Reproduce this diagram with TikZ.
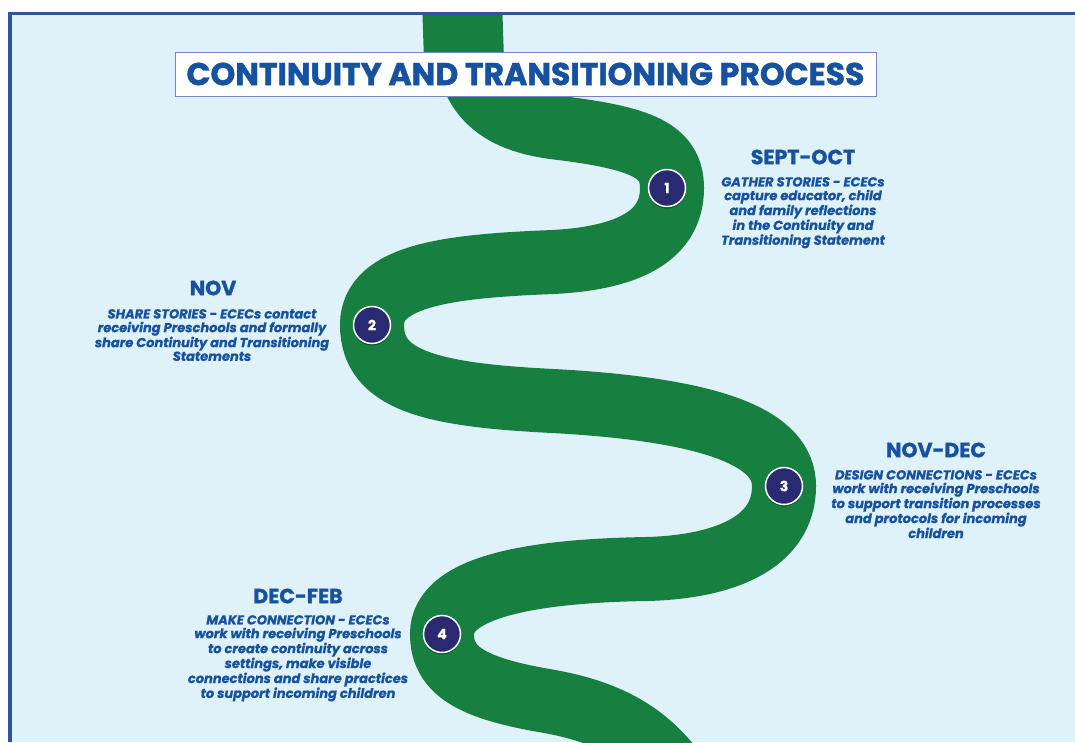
\documentclass[tikz,border=0pt]{standalone}
\usepackage{fontspec}
\setmainfont{Poppins}[BoldFeatures={FakeBold=1.3}, BoldItalicFeatures={FakeBold=0.9}]
\usetikzlibrary{shadows}
\definecolor{bgblue}{RGB}{223,241,249}
\definecolor{frame}{RGB}{47,85,151}
\definecolor{road}{RGB}{23,127,64}
\definecolor{txt}{RGB}{23,82,160}
\definecolor{navy}{RGB}{42,42,114}
\definecolor{tframe}{RGB}{125,130,198}
\tikzset{
  roadline/.style={draw=road, line width=64pt, line cap=butt},
  stepdot/.style={circle, fill=navy, draw=white, line width=1.5pt, minimum size=37pt, inner sep=0pt,
     text=white, font=\fontsize{14}{14}\selectfont\bfseries,
     drop shadow={shadow xshift=0pt, shadow yshift=-2pt, opacity=0.35, fill=black}},
  heading/.style={text=txt, font=\fontsize{20.5}{20.5}\selectfont\bfseries, inner sep=0pt},
  body/.style={text=txt, font=\fontsize{13}{13.7}\selectfont\bfseries\itshape, align=center, inner sep=0pt},
}
\begin{document}
\begin{tikzpicture}[x=1pt,y=-1pt]
\useasboundingbox (0,0) rectangle (1075,742);
\fill[white] (0,0) rectangle (1075,742);
\fill[bgblue] (10,13.7) rectangle (1075,742);
\draw[frame, line width=3.5pt] (10,742) -- (10,13.7) -- (1075,13.7);
% road
\begin{scope}
\clip (11.8,15.5) rectangle (1075,742);
\draw[road, line width=80pt] (462,0) -- (464,60);
\draw[roadline] (462,-10) .. controls (462,70) and (470,118) .. (560,128)
  .. controls (640,138) and (672,150) .. (672,188)
  .. controls (672,235) and (630,258) .. (553,262)
  .. controls (450,266) and (372,275) .. (372,325)
  .. controls (372,380) and (430,395) .. (553,401)
  .. controls (720,410) and (784,440) .. (784,486)
  .. controls (784,545) and (720,567) .. (647,569)
  .. controls (520,571) and (442,590) .. (442,634)
  .. controls (442,670) and (470,688) .. (547,701)
  .. controls (610,712) and (650,735) .. (680,780);
\end{scope}
% title
\node[draw=tframe, fill=white, line width=1pt, minimum width=701pt, minimum height=44pt, inner sep=0pt,
  text=txt, font=\fontsize{31.5}{31.5}\selectfont\bfseries] (title) at (525.5,74) {CONTINUITY AND TRANSITIONING PROCESS};
% step circles
\node[stepdot] (c1) at (667,188) {1};
\node[stepdot] (c2) at (372,325) {2};
\node[stepdot] (c3) at (784,486) {3};
\node[stepdot] (c4) at (442,634) {4};
% headings and texts
\node[heading] (h1) at (803,157) {SEPT-OCT};
\node[body, anchor=north] (t1) at (803,177) {GATHER STORIES - ECECs\\capture educator, child\\and family reflections\\in the Continuity and\\Transitioning Statement};
\node[heading] (h2) at (213,288) {NOV};
\node[body, anchor=north] (t2) at (212,309) {SHARE STORIES - ECECs contact\\receiving Preschools and formally\\share Continuity and Transitioning\\Statements};
\node[heading] (h3) at (936,450) {NOV-DEC};
\node[body, anchor=north] (t3) at (936,470) {DESIGN CONNECTIONS - ECECs\\work with receiving Preschools\\to support transition processes\\and protocols for incoming\\children};
\node[heading] (h4) at (298,596) {DEC-FEB};
\node[body, anchor=north] (t4) at (298,615) {MAKE CONNECTION - ECECs\\work with receiving Preschools\\to create continuity across\\settings, make visible\\connections and share practices\\to support incoming children};
\end{tikzpicture}
\end{document}
